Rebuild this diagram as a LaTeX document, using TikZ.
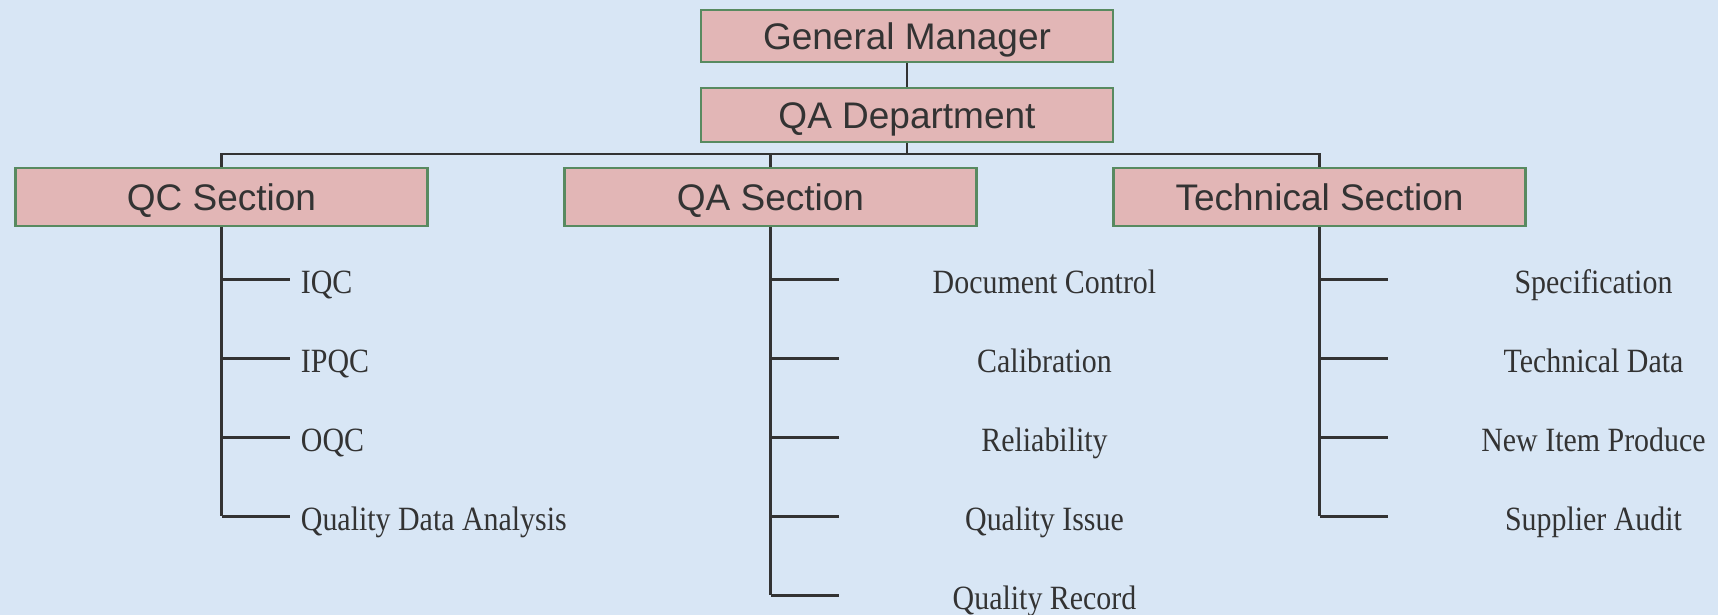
\documentclass[tikz,border=0pt]{standalone}
\usepackage{fontspec}
\usetikzlibrary{calc,positioning}
\newfontfamily\boxfont{Liberation Sans}
\newfontfamily\itemfont[FakeStretch=0.88]{Liberation Serif}
\definecolor{bgblue}{RGB}{216,230,245}
\definecolor{boxpink}{RGB}{226,182,182}
\definecolor{boxgreen}{RGB}{88,138,96}
\definecolor{inkgray}{RGB}{51,51,51}
\tikzset{
    unitbox/.style={draw=boxgreen,fill=boxpink,line width=1.2pt,   % pink boxes
                    minimum width=206pt,minimum height=26pt,inner sep=0pt,
                    text=inkgray,font=\boxfont\fontsize{18.5}{20}\selectfont,
                    text height=13.2pt,text depth=0pt},
    link/.style={draw=inkgray,line width=1.3pt},                    % tree lines
    item/.style={text=inkgray,inner sep=0pt,
                 font=\itemfont\fontsize{17}{19}\selectfont}
}

\begin{document}
\begin{tikzpicture}[x=0.5pt,y=-0.5pt]
                \fill[bgblue] (0,0) rectangle (1718,615);
                \useasboundingbox (0,0) rectangle (1718,615);
                % top of the chart
                \node[unitbox] (gm) at (907,36) {General Manager};
                \node[unitbox,minimum height=27pt] (qad) at (907,115) {QA Department};
                % the three sections
                \node[unitbox,minimum height=29pt] (qcs) at (221.5,197) {QC Section};
                \node[unitbox,minimum height=29pt] (qas) at (770.5,197) {QA Section};
                \node[unitbox,minimum height=29pt] (tcs) at (1319.5,197) {Technical Section};
                \coordinate (bus) at (907,154);
                \draw[link] (gm.south) -- (qad.north);
                \draw[link] (qad.south) -- (bus);
                \draw[link] (qcs.north) |- (bus) -| (tcs.north);
                \draw[link] (qas.north) -- (qas.north |- bus);
                % QC items
                \foreach \txt [count=\i] in {IQC,IPQC,OQC,Quality Data Analysis} {
                    \coordinate (qcj\i) at ($(qcs.south)+(0,79*\i-27)$);
                    \coordinate (qce\i) at ($(qcj\i)+(68,0)$);
                    \draw[link] (qcj\i) -- (qce\i);
                    \node[item,anchor=base west] (qci\i) at ($(qcj\i)+(79,14)$) {\txt};
                }
                \draw[link] (qcs.south) -- (qcj4);
                % QA items
                \foreach \txt [count=\i] in {Document Control,Calibration,Reliability,Quality Issue,Quality Record} {
                    \coordinate (qaj\i) at ($(qas.south)+(0,79*\i-27)$);
                    \coordinate (qae\i) at ($(qaj\i)+(68,0)$);
                    \draw[link] (qaj\i) -- (qae\i);
                    \node[item,anchor=base] (qai\i) at ($(qaj\i)+(274,14)$) {\txt};
                }
                \draw[link] (qas.south) -- (qaj5);
                % technical items
                \foreach \txt [count=\i] in {Specification,Technical Data,New Item Produce,Supplier Audit} {
                    \coordinate (tcj\i) at ($(tcs.south)+(0,79*\i-27)$);
                    \coordinate (tce\i) at ($(tcj\i)+(68,0)$);
                    \draw[link] (tcj\i) -- (tce\i);
                    \node[item,anchor=base] (tci\i) at ($(tcj\i)+(274,14)$) {\txt};
                }
                \draw[link] (tcs.south) -- (tcj4);
            \end{tikzpicture}
\end{document}
